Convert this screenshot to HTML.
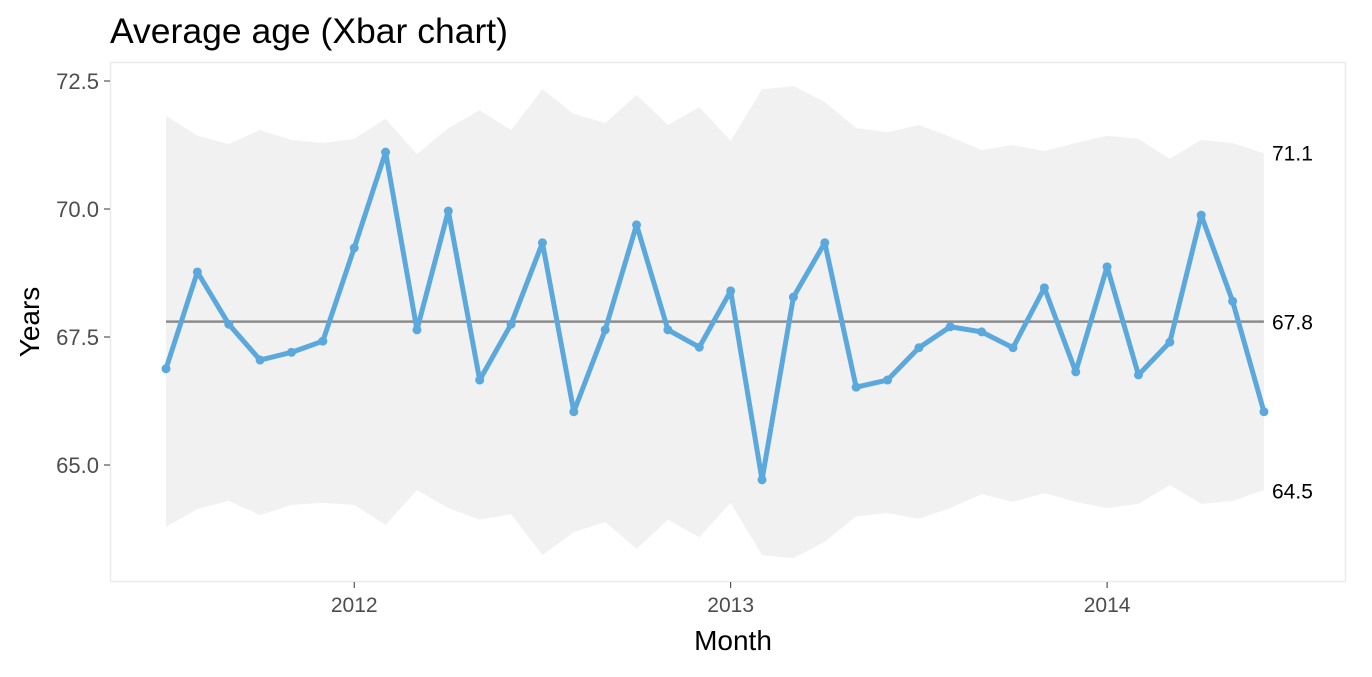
<!DOCTYPE html>
<html><head><meta charset="utf-8"><style>
body{margin:0;background:#fff;font-family:"Liberation Sans",sans-serif;}
svg text{font-family:"Liberation Sans",sans-serif;}
</style></head><body>
<svg id="chart" width="1372" height="672" xmlns="http://www.w3.org/2000/svg">
<rect width="1372" height="672" fill="#fff"/>
<text x="110" y="43" font-size="35.5" fill="#000">Average age (Xbar chart)</text>
<g id="plot"></g>
<text transform="translate(39,322) rotate(-90)" text-anchor="middle" font-size="28" fill="#000">Years</text>
<text x="733" y="650" text-anchor="middle" font-size="28" fill="#000">Month</text>
</svg>
<script>
const months=36; // July 2011 .. June 2014
const values=[66.88,68.77,67.75,67.05,67.2,67.42,69.24,71.11,67.64,69.96,66.66,67.75,69.34,66.04,67.64,69.69,67.64,67.3,68.4,64.71,68.28,69.34,66.52,66.66,67.29,67.7,67.6,67.29,68.46,66.82,68.87,66.76,67.4,69.88,68.2,66.04];
const ucl=[71.82,71.43,71.27,71.54,71.35,71.29,71.37,71.76,71.07,71.58,71.93,71.54,72.34,71.86,71.68,72.23,71.64,71.99,71.33,72.34,72.40,72.09,71.58,71.50,71.64,71.41,71.15,71.25,71.13,71.29,71.43,71.37,70.98,71.35,71.29,71.09];
const lcl=[63.79,64.14,64.30,64.02,64.22,64.26,64.22,63.83,64.51,64.16,63.93,64.04,63.24,63.69,63.89,63.36,63.93,63.59,64.26,63.24,63.18,63.50,64.00,64.06,63.95,64.16,64.43,64.28,64.45,64.28,64.16,64.24,64.61,64.24,64.30,64.51];
const center=67.8;
const yTicks=[65.0,67.5,70.0,72.5];
const xTickIdx=[6,18,30];
const xTickLabels=["2012","2013","2014"];
const endLabels=["71.1","67.8","64.5"];
const endValues=[71.1,67.8,64.5];

const ns="http://www.w3.org/2000/svg";
const g=document.getElementById('plot');
const y=v=>209-(v-70)*51.2;
const x=i=>166+i*31.37;
function mk(t,a){const e=document.createElementNS(ns,t);for(const k in a)e.setAttribute(k,a[k]);g.appendChild(e);return e;}
let pts=values.map((_,i)=>x(i)+','+y(ucl[i]));
for(let i=values.length-1;i>=0;i--)pts.push(x(i)+','+y(lcl[i]));
let band=mk('polygon',{points:pts.join(' '),fill:'#f1f1f1'});


let border=mk('rect',{x:110.5,y:62.5,width:1235,height:519,fill:'none',stroke:'#ebebeb','stroke-width':1.5});


yTicks.forEach(v=>{
 mk('line',{x1:104,x2:110,y1:y(v),y2:y(v),stroke:'#333','stroke-width':1});
 let t=mk('text',{x:99,y:y(v)+8,'text-anchor':'end','font-size':22,fill:'#4d4d4d'});
 t.textContent=v.toFixed(1);
 
 
});
xTickIdx.forEach((idx,k)=>{
 mk('line',{x1:x(idx),x2:x(idx),y1:582,y2:588,stroke:'#333','stroke-width':1});
 let t=mk('text',{x:x(idx),y:612,'text-anchor':'middle','font-size':21,fill:'#4d4d4d'});
 t.textContent=xTickLabels[k];
 
 
});
let cl=mk('line',{x1:x(0),x2:x(months-1),y1:y(center),y2:y(center),stroke:'#8c8c8c','stroke-width':2.5});


let line=mk('polyline',{points:values.map((v,i)=>x(i)+','+y(v)).join(' '),fill:'none',stroke:'#5ba8dd','stroke-width':5,'stroke-linejoin':'round'});


values.forEach((v,i)=>{
 let c=mk('circle',{cx:x(i),cy:y(v),r:4.5,fill:'#5ba8dd'});
 
 
});
endLabels.forEach((l,k)=>{
 let t=mk('text',{x:1272,y:y(endValues[k])+8,'font-size':21,fill:'#000'});
 t.textContent=l;
 
 
});
</script>
</body></html>
